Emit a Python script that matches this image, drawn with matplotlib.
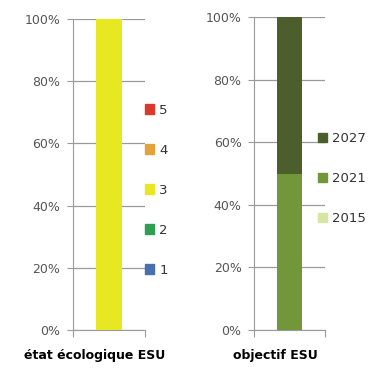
import matplotlib
matplotlib.use("Agg")
import matplotlib.pyplot as plt
from matplotlib.patches import Patch
from matplotlib.ticker import PercentFormatter

# État écologique : part de chaque classe (en %)
classes_etat = ["1", "2", "3", "4", "5"]
valeurs_etat = [0, 0, 100, 0, 0]
couleurs_etat = ["#4a6fae", "#2e9e52", "#e8e822", "#e3a33c", "#d93a2b"]

# Objectif : échéance d'atteinte du bon état (en %)
echeances = ["2015", "2021", "2027"]
valeurs_obj = [0, 50, 50]
couleurs_obj = ["#d6e6a2", "#72973a", "#4b5e2c"]

ticks_pct = [0, 20, 40, 60, 80, 100]
titres = ["état écologique ESU", "objectif ESU"]

GRIS = "#9a9a9a"


def panneau(fig, rect, noms, valeurs, couleurs, titre, leg_x, leg_y):
    ax = fig.add_axes(rect)
    bas = 0
    for nom, v, c in zip(noms, valeurs, couleurs):
        ax.bar(0, v, bottom=bas, width=0.36, color=c, zorder=3)
        bas += v
    ax.set_xlim(-0.5, 0.5)
    ax.set_ylim(0, 100)
    ax.set_yticks(ticks_pct)
    ax.yaxis.set_major_formatter(PercentFormatter(decimals=0))
    ax.set_xticks([-0.5, 0.5])
    ax.set_xticklabels([])
    ax.tick_params(axis="x", length=5, color=GRIS)
    ax.tick_params(axis="y", length=4, color=GRIS, labelsize=9,
                   labelcolor="#555555", pad=5)
    ax.grid(axis="y", color=GRIS, linewidth=0.9, zorder=0)
    for cote in ("top", "right"):
        ax.spines[cote].set_visible(False)
    for cote in ("left", "bottom"):
        ax.spines[cote].set_color(GRIS)
    ax.set_xlabel(titre, fontsize=9, fontweight="bold")
    ax.xaxis.set_label_coords(0.3, -0.06, transform=ax.transAxes)
    ax.xaxis.label.set_va("top")

    poignees = [Patch(color=c, label=n) for n, c in zip(noms, couleurs)][::-1]
    ax.legend(handles=poignees, loc="upper left", bbox_to_anchor=(leg_x, leg_y),
              frameon=False, fontsize=9.5, labelcolor="#333333",
              handlelength=0.7, handleheight=0.7, handletextpad=0.4,
              labelspacing=2.05, borderaxespad=0)
    return ax


fig = plt.figure(figsize=(3.82, 3.78), dpi=100)
fig.patch.set_facecolor("white")

panneau(fig, [0.191, 0.127, 0.189, 0.823], classes_etat, valeurs_etat,
        couleurs_etat, titres[0], 0.92, 0.745)
panneau(fig, [0.665, 0.127, 0.186, 0.828], echeances, valeurs_obj,
        couleurs_obj, titres[1], 0.82, 0.65)

fig.savefig("out.png", dpi=100)
